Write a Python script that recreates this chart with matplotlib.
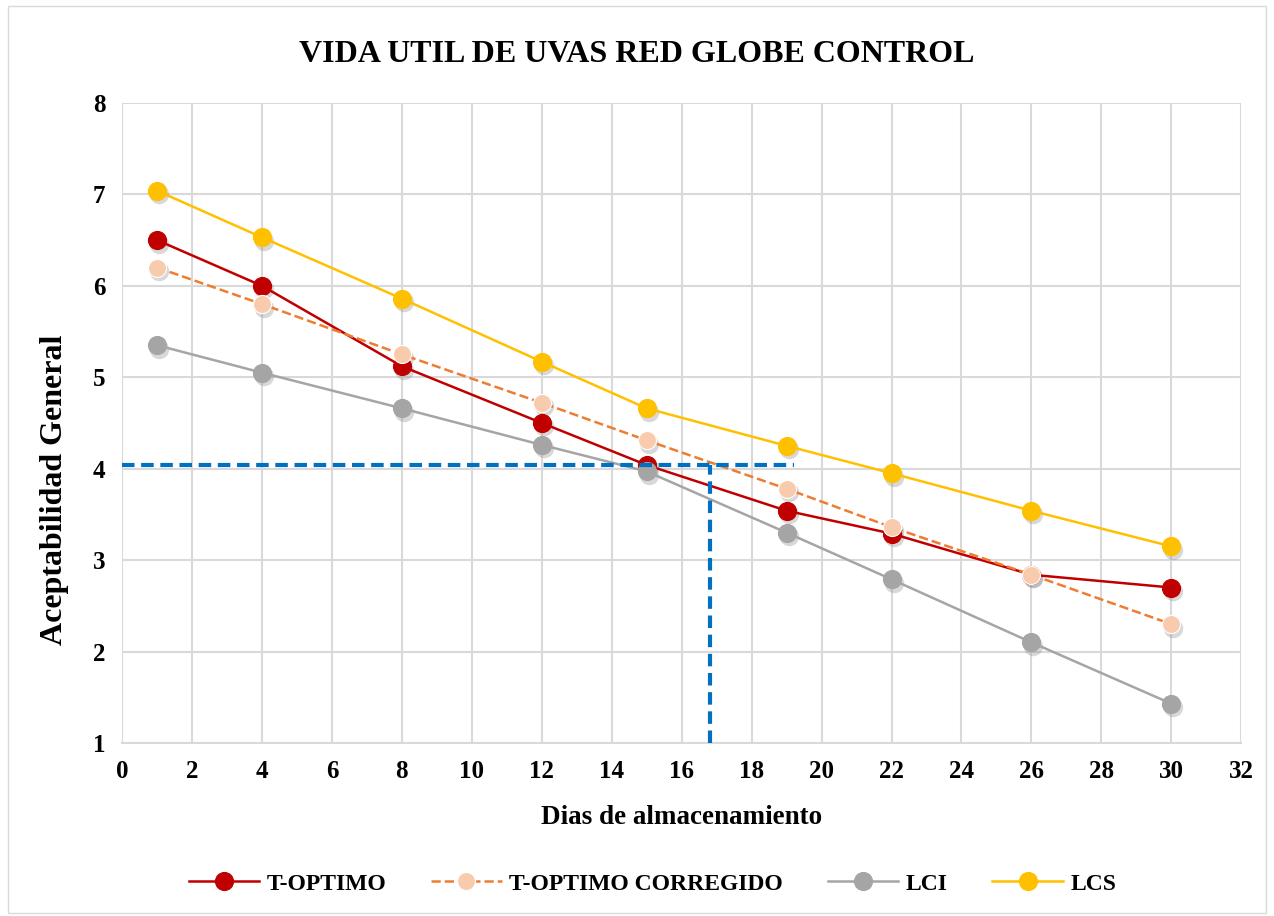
import matplotlib
matplotlib.use("Agg")
import matplotlib.pyplot as plt
from matplotlib.transforms import offset_copy

# ── Data ─────────────────────────────────────────────────────────────────────
dias = [1, 4, 8, 12, 15, 19, 22, 26, 30]
t_optimo = [6.50, 6.00, 5.12, 4.50, 4.04, 3.54, 3.29, 2.84, 2.70]
t_corregido = [6.20, 5.80, 5.25, 4.72, 4.31, 3.78, 3.36, 2.84, 2.30]
lci = [5.35, 5.05, 4.66, 4.26, 3.97, 3.30, 2.79, 2.10, 1.43]
lcs = [7.04, 6.53, 5.86, 5.17, 4.66, 4.25, 3.95, 3.54, 3.15]

# vida util: corte en aceptabilidad 4.04 -> dia 16.8
corte_y = 4.04
corte_x = 16.8
corte_fin = 19.2

plt.rcParams['font.family'] = ['Liberation Serif', 'DejaVu Serif']
plt.rcParams['font.weight'] = 'bold'

fig = plt.figure(figsize=(12.74, 9.16), dpi=100)
ax = fig.add_axes([0.0958, 0.1889, 0.8785, 0.6987])

# sombra debajo de los marcadores
shadow_tr = offset_copy(ax.transData, fig=fig, x=1.5, y=-2.5, units="points")

series = [
    (t_optimo, "T-OPTIMO", "#C00000", "#C00000", "#C00000", "-"),
    (t_corregido, "T-OPTIMO CORREGIDO", "#ED7D31", "#F8CBAD", "white", "--"),
    (lci, "LCI", "#A5A5A5", "#A5A5A5", "#A5A5A5", "-"),
    (lcs, "LCS", "#FFC000", "#FFC000", "#FFC000", "-"),
]
for vals, name, lc, fc, ec, ls in series:
    ax.plot(dias, vals, linestyle="none", marker="o", markersize=14,
            markerfacecolor="#808080", markeredgecolor="none", alpha=0.3,
            transform=shadow_tr, zorder=2)
    ax.plot(dias, vals, color=lc, linestyle=ls, linewidth=1.8,
            marker="o", markersize=13, markerfacecolor=fc,
            markeredgecolor=ec, markeredgewidth=0.8, label=name, zorder=3)

# Lineas de corte
ax.plot([0, corte_fin], [corte_y, corte_y], color="#0070C0", linestyle="--",
        linewidth=3, dashes=(3, 1.6), zorder=4)
ax.plot([corte_x, corte_x], [1, corte_y], color="#0070C0", linestyle="--",
        linewidth=3, dashes=(3, 1.6), zorder=4)

ax.set_xlim(0, 32)
ax.set_ylim(1, 8)
ax.set_xticks(range(0, 33, 2))
ax.set_yticks(range(1, 9))
ax.grid(True, color="#D9D9D9", linewidth=1.5)
ax.set_axisbelow(True)
for side in ["top", "right", "left"]:
    ax.spines[side].set_visible(False)
ax.spines["bottom"].set_color("#D9D9D9")
ax.spines["bottom"].set_linewidth(1.5)
ax.tick_params(length=0, labelsize=18, pad=12)
for lbl in ax.get_xticklabels() + ax.get_yticklabels():
    lbl.set_fontweight("bold")

ax.set_xlabel("Dias de almacenamiento", fontsize=19.5, fontweight="bold", labelpad=16)
ax.set_ylabel("Aceptabilidad General", fontsize=23, fontweight="bold")
ax.yaxis.set_label_coords(-0.047, 0.395)
fig.text(0.5, 0.940, "VIDA UTIL DE UVAS RED GLOBE CONTROL", ha="center",
         va="center", fontsize=23, fontweight="bold")

fig.legend(loc="center", bbox_to_anchor=(0.512, 0.035), ncol=4, frameon=False,
           handlelength=3.0, columnspacing=1.9, handletextpad=0.3,
           prop={"weight": "bold", "size": 17})

# marco del grafico
fig.patches.append(plt.Rectangle((0.006, 0.003), 0.988, 0.99, transform=fig.transFigure,
                                 fill=False, edgecolor="#D9D9D9", linewidth=1))

plt.savefig("out.png", dpi=100)
